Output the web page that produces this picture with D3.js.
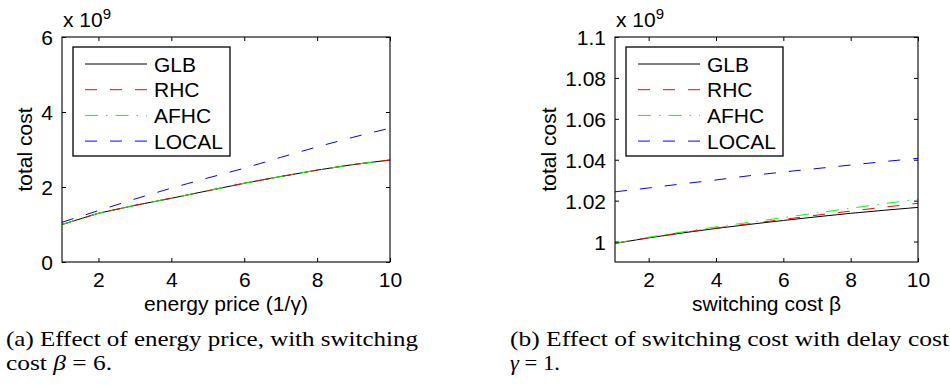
<!DOCTYPE html>
<html><head><meta charset="utf-8">
<script src="https://cdn.jsdelivr.net/npm/d3@7"></script>
<style>body{margin:0;background:#fff} svg{display:block}</style></head>
<body>
<svg id="c" width="950" height="385"></svg>
<script>
// ---------- data (values in units of 1e9) ----------
const xValues = [1, 2, 3, 4, 5, 6, 7, 8, 9, 10];
const seriesNames = ["GLB", "RHC", "AFHC", "LOCAL"];
// (a) energy price 1/gamma, beta = 6
const priceGLB   = [1.00, 1.30, 1.51, 1.70, 1.90, 2.10, 2.28, 2.45, 2.60, 2.72];
const priceRHC   = [1.00, 1.30, 1.51, 1.70, 1.90, 2.10, 2.28, 2.45, 2.60, 2.72];
const priceAFHC  = [1.00, 1.30, 1.51, 1.70, 1.90, 2.10, 2.28, 2.45, 2.60, 2.72];
const priceLOCAL = [1.06, 1.37, 1.68, 1.97, 2.24, 2.50, 2.79, 3.07, 3.33, 3.57];
// (b) switching cost beta, gamma = 1
const switchGLB   = [0.9991, 1.0018, 1.0042, 1.0064, 1.0084, 1.0103, 1.0121, 1.0138, 1.0153, 1.0167];
const switchRHC   = [0.9991, 1.0019, 1.0044, 1.0066, 1.0087, 1.0108, 1.0129, 1.0149, 1.0168, 1.0187];
const switchAFHC  = [0.9992, 1.0021, 1.0047, 1.0072, 1.0094, 1.0117, 1.0140, 1.0163, 1.0185, 1.0207];
const switchLOCAL = [1.0243, 1.0262, 1.0282, 1.0301, 1.0322, 1.0340, 1.0357, 1.0374, 1.0391, 1.0407];
// ticks
const xTicks = [2, 4, 6, 8, 10];
const yTicksA = [0, 2, 4, 6];
const yTicksB = [1, 1.02, 1.04, 1.06, 1.08, 1.1];
const xLabelA = "energy price (1/\u03b3)";
const xLabelB = "switching cost \u03b2";
const yLabel = "total cost";

// ---------- styles ----------
const styles = [
  {color: "#000000", dash: null},
  {color: "#ff0000", dash: "12,13"},
  {color: "#00ff00", dash: "13,8,1.5,8"},
  {color: "#0000ff", dash: "12,13"}
];
const sans = "'Liberation Sans', Arial, Helvetica, sans-serif";
const serif = "'Liberation Serif', 'DejaVu Serif', serif";
const FS = 21;

const svg = d3.select("#c");

function panel(cfg) {
  const {left, right, top, bottom, yDomain, yTicks, yFmt, series, xLabel, xLabelW, id, legend, ylabX} = cfg;
  const x = d3.scaleLinear().domain([1, 10]).range([left, right]);
  const y = d3.scaleLinear().domain(yDomain).range([bottom, top]);
  const g = svg.append("g");

  g.append("clipPath").attr("id", id).append("rect")
    .attr("x", left).attr("y", top).attr("width", right - left).attr("height", bottom - top);

  const line = d3.line().x((d, i) => x(xValues[i])).y(d => y(d));
  const lg = g.append("g").attr("clip-path", `url(#${id})`);
  series.forEach((s, k) => {
    lg.append("path").attr("d", line(s)).attr("fill", "none")
      .attr("stroke", styles[k].color).attr("stroke-width", 1)
      .attr("stroke-dasharray", styles[k].dash);
  });

  // axes
  const fontStyle = sel => sel.selectAll("text").attr("font-family", sans).attr("font-size", FS).attr("fill", "#000");
  const bx = g.append("g").attr("transform", `translate(0,${bottom})`)
    .call(d3.axisBottom(x).tickValues(xTicks).tickSize(-4).tickPadding(10).tickSizeOuter(0));
  bx.select(".domain").remove(); fontStyle(bx);
  const tx = g.append("g").attr("transform", `translate(0,${top})`)
    .call(d3.axisTop(x).tickValues(xTicks).tickSize(-4).tickFormat(""));
  tx.select(".domain").remove();
  const ly = g.append("g").attr("transform", `translate(${left},0)`)
    .call(d3.axisLeft(y).tickValues(yTicks).tickSize(-4).tickPadding(9).tickFormat(yFmt));
  ly.select(".domain").remove(); fontStyle(ly);
  ly.selectAll("text").attr("dy", "0.36em");
  const ry = g.append("g").attr("transform", `translate(${right},0)`)
    .call(d3.axisRight(y).tickValues(yTicks).tickSize(-4).tickFormat(""));
  ry.select(".domain").remove();
  g.selectAll(".tick line").attr("stroke", "#000").attr("stroke-width", 1);

  g.append("rect").attr("x", left).attr("y", top).attr("width", right - left).attr("height", bottom - top)
    .attr("fill", "none").attr("stroke", "#000").attr("stroke-width", 1.1);

  // exponent
  const ex = g.append("text").attr("x", left + 1).attr("y", 27).attr("font-family", sans).attr("font-size", FS);
  ex.append("tspan").text("x 10");
  ex.append("tspan").attr("dy", -8).attr("font-size", 15).text("9");

  // axis labels
  g.append("text").attr("x", (left + right) / 2).attr("y", 311).attr("text-anchor", "middle")
    .attr("font-family", sans).attr("font-size", FS)
    .attr("textLength", xLabelW).attr("lengthAdjust", "spacingAndGlyphs").text(xLabel);
  g.append("text").attr("transform", `translate(${ylabX},${(top + bottom) / 2}) rotate(-90)`)
    .attr("text-anchor", "middle").attr("font-family", sans).attr("font-size", FS).text(yLabel);

  // legend
  const lx = legend.x, ly0 = legend.y;
  g.append("rect").attr("x", lx).attr("y", ly0).attr("width", 157).attr("height", 109)
    .attr("fill", "#fff").attr("stroke", "#000").attr("stroke-width", 1.3);
  seriesNames.forEach((n, k) => {
    const yy = ly0 + 17 + k * 25.7;
    g.append("line").attr("x1", lx + 12).attr("x2", lx + 74).attr("y1", yy).attr("y2", yy)
      .attr("stroke", styles[k].color).attr("stroke-width", 1).attr("stroke-dasharray", styles[k].dash);
    g.append("text").attr("x", lx + 81).attr("y", yy + 7.5).attr("font-family", sans).attr("font-size", FS).text(n);
  });
}

panel({
  id: "clipA", left: 62, right: 390, top: 37, bottom: 262,
  yDomain: [0, 6], yTicks: yTicksA, yFmt: d3.format("d"),
  series: [priceGLB, priceRHC, priceAFHC, priceLOCAL],
  xLabel: xLabelA, xLabelW: 164, legend: {x: 73, y: 47}, ylabX: 32
});
panel({
  id: "clipB", left: 615, right: 918, top: 37, bottom: 262,
  yDomain: [0.99, 1.1], yTicks: yTicksB, yFmt: d => d3.format(".2~f")(d),
  series: [switchGLB, switchRHC, switchAFHC, switchLOCAL],
  xLabel: xLabelB, xLabelW: 149, legend: {x: 626, y: 47}, ylabX: 556
});

// captions
function captionLine(x, y, parts, w) {
  const t = svg.append("text").attr("x", x).attr("y", y).attr("font-family", serif)
    .attr("font-size", 22).attr("fill", "#000");
  if (w) t.attr("textLength", w).attr("lengthAdjust", "spacingAndGlyphs");
  parts.forEach(p => {
    const s = t.append("tspan").text(p.t);
    if (p.i) s.attr("font-style", "italic");
  });
  return t;
}
captionLine(6, 346, [{t: "(a) Effect of energy price, with  switching"}], 412);
captionLine(6, 370, [{t: "cost "}, {t: "\u03b2", i: true}, {t: " = 6."}], 106);
captionLine(510, 346, [{t: "(b) Effect of switching cost with delay cost"}], 439);
captionLine(510, 370, [{t: "\u03b3", i: true}, {t: " = 1."}], 50);
</script>
</body></html>
